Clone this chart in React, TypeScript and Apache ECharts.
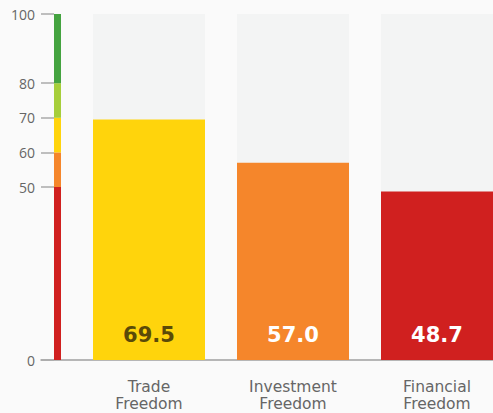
import React, { useEffect, useRef } from "react";
import * as echarts from "echarts";

const categories = ["Trade\nFreedom", "Investment\nFreedom", "Financial\nFreedom"];
const scores = [69.5, 57.0, 48.7];
const maxScores = [100, 100, 100];
const bandSegments = [50, 10, 10, 10, 20];
const tickValues = [0, 50, 60, 70, 80, 100];

const barColors = ["#FFD40C", "#F5862B", "#D0201F"];
const labelColors = ["#5a4a08", "#ffffff", "#ffffff"];
const bandColors = ["#D0201F", "#F5862B", "#FFD40C", "#A6CE3A", "#44A340"];

export default function App() {
  const ref = useRef<HTMLDivElement>(null);
  useEffect(() => {
    document.body.style.margin = "0";
    document.body.style.background = "#fafafa";
    const chart = echarts.init(ref.current!, null, { renderer: "svg" });
    const top = 14;
    const bottom = 53;
    chart.setOption({
      animation: false,
      backgroundColor: "#fafafa",
      grid: [
        { left: 77, width: 432, top, bottom, outerBoundsMode: "none", containLabel: false },
        { left: 54, width: 7, top, bottom, outerBoundsMode: "none", containLabel: false },
        { left: 41, width: 468, top, bottom, outerBoundsMode: "none", containLabel: false },
      ],
      xAxis: [
        {
          gridIndex: 0,
          type: "category",
          data: categories,
          axisLine: { show: false },
          axisTick: { show: false },
          axisLabel: {
            margin: 18,
            fontFamily: "DejaVu Sans",
            fontSize: 15.5,
            lineHeight: 17,
            color: "#666666",
          },
        },
        {
          gridIndex: 1,
          type: "category",
          data: [""],
          axisLine: { show: false },
          axisTick: { show: false },
          axisLabel: { show: false },
        },
        {
          gridIndex: 2,
          type: "value",
          axisLine: { show: true, lineStyle: { color: "#a0a0a0", width: 1.5 } },
          axisTick: { show: false },
          axisLabel: { show: false },
          splitLine: { show: false },
        },
      ],
      yAxis: [
        { gridIndex: 0, type: "value", min: 0, max: 100, show: false },
        {
          gridIndex: 1,
          type: "value",
          min: 0,
          max: 100,
          interval: 10,
          axisLine: { show: false },
          splitLine: { show: false },
          axisTick: {
            show: true,
            length: 13,
            customValues: tickValues,
            lineStyle: { color: "#aaaaaa", width: 1.5 },
          },
          axisLabel: {
            customValues: tickValues,
            margin: 19,
            fontFamily: "Open Sans",
            fontSize: 14,
            color: "#666666",
          },
        },
        { gridIndex: 2, type: "value", min: 0, max: 100, show: false },
      ],
      series: [
        {
          type: "bar",
          xAxisIndex: 0,
          yAxisIndex: 0,
          data: maxScores,
          barWidth: 112,
          barGap: "-100%",
          itemStyle: { color: "#F3F4F4" },
          silent: true,
          z: 1,
        },
        {
          type: "bar",
          xAxisIndex: 0,
          yAxisIndex: 0,
          barWidth: 112,
          data: scores.map((v, i) => ({
            value: v,
            itemStyle: { color: barColors[i] },
            label: { color: labelColors[i] },
          })),
          label: {
            show: true,
            position: "insideBottom",
            distance: 15,
            fontFamily: "DejaVu Sans",
            fontWeight: "bold",
            fontSize: 21,
            formatter: (p: any) => Number(p.value).toFixed(1),
          },
          z: 2,
        },
        ...bandSegments.map((v, i) => ({
          type: "bar",
          xAxisIndex: 1,
          yAxisIndex: 1,
          stack: "band",
          barWidth: "100%",
          data: [v],
          itemStyle: { color: bandColors[i] },
        })),
      ],
    });
    return () => chart.dispose();
  }, []);
  return <div ref={ref} style={{ width: 493, height: 413 }} />;
}
